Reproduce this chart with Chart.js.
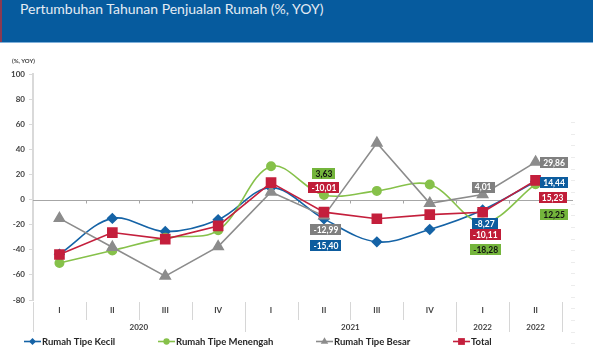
<!DOCTYPE html>
<html><head><meta charset="utf-8">
<script src="https://cdn.jsdelivr.net/npm/chart.js@4/dist/chart.umd.min.js"></script>
<style>
html,body{margin:0;padding:0;background:#fff;}
#wrap{position:relative;width:593px;height:358px;overflow:hidden;background:#fff;}
#bar{position:absolute;left:0;top:0;width:593px;height:42px;background:#065b9e;border-bottom:1px solid #7fb0da;z-index:2;}
#bar:before{content:"";position:absolute;left:0;top:0;width:2px;height:42px;background:#8a3a52;}
#title{position:absolute;left:20px;top:0;height:42px;line-height:42px;color:#e4ecf4;font:14px Lato;white-space:nowrap;}
#unit{position:absolute;left:12px;top:57px;font:bold 6px Lato;color:#404040;z-index:2;}
canvas{position:absolute;left:0;top:0;}
</style></head>
<body>
<div id="wrap">
  <canvas id="c" width="593" height="358"></canvas>
  <div id="bar"><div id="title">Pertumbuhan Tahunan Penjualan Rumah (%, YOY)</div></div>
  <div id="unit">(%, YOY)</div>
</div>
<script>
// ---- data ----
const categories = ['I','II','III','IV','I','II','III','IV','I','II'];
const yearGroups = ['2020','2021','2022','2022'];
const yearSpans  = [4,4,1,1];
const seriesNames = ['Rumah Tipe Kecil','Rumah Tipe Menengah','Rumah Tipe Besar','Total'];
const kecil    = [-43.5, -15.0, -25.5, -16.0,  9.5, -15.40, -33.7, -23.8,  -8.27, 14.44];
const menengah = [-50.5, -40.5, -30.5, -24.5, 26.5,   3.63,   6.9,  12.0, -18.28, 12.25];
const besar    = [-15.0, -38.0, -61.0, -37.5,  6.0, -12.99,  45.0,  -3.0,   4.01, 29.86];
const total    = [-43.8, -26.3, -31.5, -21.0, 13.5, -10.01, -15.3, -12.0, -10.11, 15.23];
const yMin = -80, yMax = 100, yStep = 20;
const labelledIdx = [5, 8, 9];

// ---- styles ----
const colors = ['#1563a6', '#86c14a', '#8c8c8c', '#c41f3c'];
const boxColors = ['#0d5c9e', '#74b53c', '#808080', '#c01d38'];
const boxText = ['#ffffff', '#111111', '#ffffff', '#ffffff'];
// label offsets (px) relative to each labelled point
const labelOffsets = [
  {5:[2,27],   8:[2,14],    9:[18.5,1]},
  {5:[0,-21.5],8:[3,27],    9:[18.5,30.5]},
  {5:[2,14],   8:[0.5,-7.5],9:[18.5,0.5]},
  {5:[0,-24.5],8:[2.5,22.5],9:[17,17]}
];
const FONT = 'Lato';
Chart.defaults.font.family = FONT;

const fmt = v => v.toFixed(2).replace('.', ',');

const deco = {
  id: 'deco',
  beforeDatasetsDraw(chart) {
    const {ctx, chartArea: a, scales: {y}} = chart;
    const y0 = Math.round(y.getPixelForValue(0)) + 0.5;
    const n = categories.length;
    const w = (a.right - a.left) / n;
    ctx.save();
    ctx.strokeStyle = '#a6a6a6'; ctx.lineWidth = 1;
    ctx.beginPath(); ctx.moveTo(a.left, y0); ctx.lineTo(a.right + 11, y0); ctx.stroke();
    ctx.beginPath();
    for (let i = 1; i < n; i++) {
      const bx = Math.round(a.left + i * w) + 0.5;
      ctx.moveTo(bx, y0); ctx.lineTo(bx, y0 + 3);
    }
    ctx.stroke();
    ctx.restore();
  },
  afterDraw(chart) {
    const {ctx, chartArea: a} = chart;
    const n = categories.length;
    const w = (a.right - a.left) / n;
    ctx.save();
    // category / year separators
    const groupEdges = new Set([0]);
    let acc = 0; yearSpans.forEach(s => { acc += s; groupEdges.add(acc); });
    ctx.strokeStyle = '#d6d6d6'; ctx.lineWidth = 1;
    ctx.beginPath();
    for (let i = 0; i <= n; i++) {
      const bx = Math.round(a.left + i * w) + 0.5;
      const long = groupEdges.has(i);
      ctx.moveTo(bx, a.bottom + 2); ctx.lineTo(bx, a.bottom + (long ? 32 : 20));
    }
    ctx.stroke();
    // year labels
    ctx.fillStyle = '#404040';
    ctx.font = 'bold 8px ' + FONT;
    ctx.textAlign = 'center'; ctx.textBaseline = 'middle';
    let start = 0;
    yearGroups.forEach((g, k) => {
      const cx = a.left + (start + yearSpans[k] / 2) * w;
      ctx.fillText(g, cx, a.bottom + 27);
      start += yearSpans[k];
    });
    // faint right-side ticks
    ctx.strokeStyle = '#ececec';
    ctx.beginPath();
    for (let ty = 122; ty <= 346; ty += 11.65) {
      const yy = Math.round(ty) + 0.5;
      ctx.moveTo(a.right + 9, yy); ctx.lineTo(a.right + 13, yy);
    }
    ctx.stroke();
    // legend
    const legendX = [24, 158, 316, 453];
    const ly = 341;
    ctx.font = 'bold 9.5px ' + FONT;
    ctx.textAlign = 'left'; ctx.textBaseline = 'middle';
    chart.data.datasets.forEach((ds, i) => {
      const lx = legendX[i];
      ctx.strokeStyle = ds.borderColor; ctx.lineWidth = 1.6;
      ctx.beginPath(); ctx.moveTo(lx, ly + 0.5); ctx.lineTo(lx + 17, ly + 0.5); ctx.stroke();
      ctx.fillStyle = ds.backgroundColor;
      Chart.helpers.drawPoint(ctx, {pointStyle: ds.pointStyle, radius: ds.pointRadius * 0.75, rotation: 0, borderWidth: 0}, lx + 8.5, ly + 0.5);
      ctx.fillStyle = '#262626';
      ctx.fillText(ds.label, lx + 18, ly + 0.5);
    });
    ctx.restore();
  },
  afterDatasetsDraw(chart) {
    const {ctx} = chart;
    ctx.save();
    ctx.font = 'bold 8.5px ' + FONT;
    ctx.textAlign = 'center'; ctx.textBaseline = 'middle';
    chart.data.datasets.forEach((ds, i) => {
      const meta = chart.getDatasetMeta(i);
      labelledIdx.forEach(idx => {
        const pt = meta.data[idx];
        const off = labelOffsets[i][idx];
        const txt = fmt(ds.data[idx]);
        const tw = ctx.measureText(txt).width;
        const cx = pt.x + off[0], cy = pt.y + off[1];
        const bw = Math.round(tw + 6), bh = 11;
        ctx.fillStyle = boxColors[i];
        ctx.fillRect(Math.round(cx - bw / 2), Math.round(cy - bh / 2), bw, bh);
        ctx.fillStyle = boxText[i];
        ctx.fillText(txt, cx, cy + 0.5);
      });
    });
    ctx.restore();
  }
};

const mk = (label, data, i, style, radius, tension, order) => ({
  label, data,
  borderColor: colors[i], backgroundColor: colors[i],
  pointBackgroundColor: colors[i], pointBorderColor: colors[i],
  pointStyle: style, pointRadius: radius, pointHoverRadius: radius,
  borderWidth: 1.6, tension, order, fill: false
});

new Chart(document.getElementById('c'), {
  type: 'line',
  data: {
    labels: categories,
    datasets: [
      mk(seriesNames[0], kecil, 0, 'rectRot', 4.6, 0.35, 3),
      mk(seriesNames[1], menengah, 1, 'circle', 4.2, 0.35, 2),
      mk(seriesNames[2], besar, 2, 'triangle', 5.8, 0, 1),
      mk(seriesNames[3], total, 3, 'rect', 6.4, 0, 0)
    ]
  },
  options: {
    responsive: false,
    animation: false,
    layout: {padding: {top: 74, left: 11, right: 31, bottom: 42}},
    plugins: {legend: {display: false}, tooltip: {enabled: false}, title: {display: false}},
    scales: {
      x: {
        type: 'category', offset: true,
        grid: {display: false, drawTicks: false},
        border: {display: false},
        ticks: {color: '#404040', font: {size: 8, weight: 'bold'}, padding: 6, maxRotation: 0, autoSkip: false},
        afterFit: s => { s.height = 16; }
      },
      y: {
        min: yMin, max: yMax,
        grid: {display: true, drawOnChartArea: false, drawTicks: true, tickLength: 4, color: '#d9d9d9'},
        border: {display: true, color: '#d9d9d9', width: 2},
        ticks: {stepSize: yStep, color: '#404040', font: {size: 8, weight: 'bold'}, padding: 4},
        afterFit: s => { s.width = 22; }
      }
    }
  },
  plugins: [deco]
});
</script>
</body></html>
